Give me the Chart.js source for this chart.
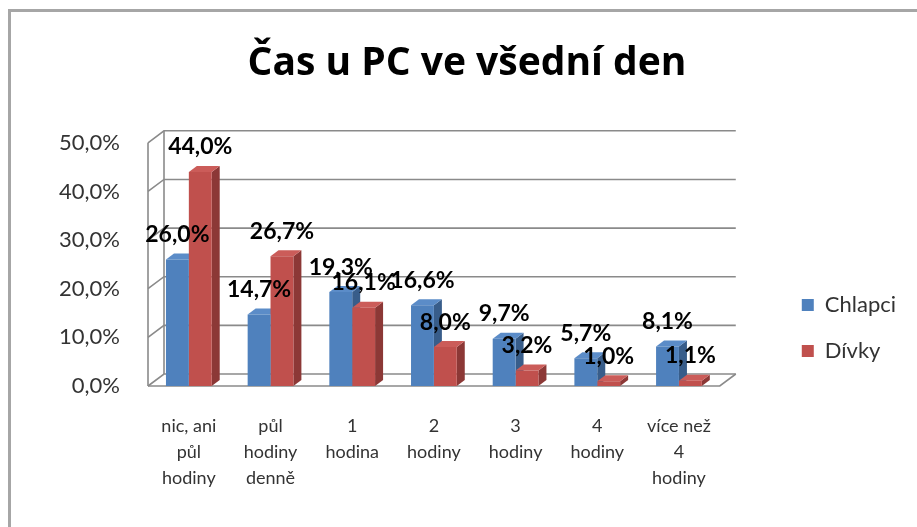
<!DOCTYPE html>
<html>
<head>
<meta charset="utf-8">
<script src="https://cdn.jsdelivr.net/npm/chart.js@4.4.1/dist/chart.umd.min.js"></script>
<style>
  html, body { margin: 0; padding: 0; background: #ffffff; }
  #wrap { width: 917px; height: 527px; position: relative; }
</style>
</head>
<body>
<div id="wrap"><canvas id="c" width="917" height="527"></canvas></div>
<script>
// ---- data ----
const titleText = "Čas u PC ve všední den";
const categories = [
  ["nic, ani", "půl", "hodiny"],
  ["půl", "hodiny", "denně"],
  ["1", "hodina"],
  ["2", "hodiny"],
  ["3", "hodiny"],
  ["4", "hodiny"],
  ["více než", "4", "hodiny"]
];
const seriesNames = ["Chlapci", "Dívky"];
const chlapci = [26.0, 14.7, 19.3, 16.6, 9.7, 5.7, 8.1];
const divky = [44.0, 26.7, 16.1, 8.0, 3.2, 1.0, 1.1];
const yMin = 0, yMax = 50, yStep = 10;

// ---- style ----
const FONT = "Lato, 'Open Sans', sans-serif";
const colors = [
  { front: "#4F81BD", side: "#385D8A", top: "#5B8CC8" },
  { front: "#C0504D", side: "#8C3836", top: "#CB5C59" }
];
const WALL_DX = 16, WALL_DY = 12;
const BAR_DX = 8, BAR_DY = 6;
const fmt = v => v.toFixed(1).replace(".", ",") + "%";

const threeD = {
  id: "threeD",
  beforeDraw(chart) {
    const ctx = chart.ctx;
    ctx.save();
    ctx.strokeStyle = "#a6a6a6";
    ctx.lineWidth = 3;
    ctx.strokeRect(9.5, 10.5, 1000, 1000);
    ctx.restore();
  },
  beforeDatasetsDraw(chart) {
    const ctx = chart.ctx;
    const ys = chart.scales.y;
    const area = chart.chartArea;
    const L = area.left, R = area.right;
    ctx.save();
    ctx.strokeStyle = "#8a8a8a";
    ctx.lineWidth = 1.6;
    for (let v = yMin; v <= yMax; v += yStep) {
      const py = ys.getPixelForValue(v);
      ctx.beginPath();
      ctx.moveTo(L, py);
      ctx.lineTo(L + WALL_DX, py - WALL_DY);
      ctx.lineTo(R + WALL_DX, py - WALL_DY);
      ctx.stroke();
    }
    const y0 = ys.getPixelForValue(yMin), y1 = ys.getPixelForValue(yMax);
    ctx.beginPath();
    ctx.moveTo(L, y0); ctx.lineTo(L, y1);
    ctx.moveTo(L + WALL_DX, y0 - WALL_DY); ctx.lineTo(L + WALL_DX, y1 - WALL_DY);
    ctx.moveTo(L, y0); ctx.lineTo(R, y0); ctx.lineTo(R + WALL_DX, y0 - WALL_DY);
    ctx.stroke();

    const n = categories.length;
    for (let i = 0; i < n; i++) {
      chart.data.datasets.forEach((ds, d) => {
        const el = chart.getDatasetMeta(d).data[i];
        if (!el) return;
        const p = el.getProps(["x", "y", "base", "width"], true);
        const l = p.x - p.width / 2, r = p.x + p.width / 2;
        ctx.fillStyle = colors[d].side;
        ctx.beginPath();
        ctx.moveTo(r, p.y); ctx.lineTo(r + BAR_DX, p.y - BAR_DY);
        ctx.lineTo(r + BAR_DX, p.base - BAR_DY); ctx.lineTo(r, p.base);
        ctx.closePath(); ctx.fill();
        ctx.fillStyle = colors[d].top;
        ctx.beginPath();
        ctx.moveTo(l, p.y); ctx.lineTo(l + BAR_DX, p.y - BAR_DY);
        ctx.lineTo(r + BAR_DX, p.y - BAR_DY); ctx.lineTo(r, p.y);
        ctx.closePath(); ctx.fill();
      });
    }
    ctx.restore();
  },
  afterDatasetsDraw(chart) {
    const ctx = chart.ctx;
    ctx.save();
    ctx.font = "bold 23px " + FONT;
    ctx.fillStyle = "#000000";
    ctx.textAlign = "center";
    ctx.textBaseline = "middle";
    chart.data.datasets.forEach((ds, d) => {
      chart.getDatasetMeta(d).data.forEach((el, i) => {
        const p = el.getProps(["x", "y"], true);
        ctx.fillText(fmt(ds.data[i]), p.x, p.y - 25);
      });
    });
    ctx.restore();
  }
};

new Chart(document.getElementById("c"), {
  type: "bar",
  data: {
    labels: categories,
    datasets: [
      { label: seriesNames[0], data: chlapci, backgroundColor: colors[0].front,
        categoryPercentage: 0.56, barPercentage: 1.0 },
      { label: seriesNames[1], data: divky, backgroundColor: colors[1].front,
        categoryPercentage: 0.56, barPercentage: 1.0 }
    ]
  },
  options: {
    responsive: false,
    animation: false,
    layout: { padding: { left: 28, right: 11, top: 0, bottom: 33 } },
    plugins: {
      title: {
        display: true, text: titleText, color: "#000000",
        font: { family: "'Open Sans', Lato, sans-serif", size: 39, weight: "bold" },
        padding: { top: 40, bottom: 56 }
      },
      legend: {
        position: "right",
        fullSize: false,
        align: "end",
        labels: {
          color: "#333333",
          font: { family: FONT, size: 22 },
          boxWidth: 12, boxHeight: 12, padding: 24
        }
      },
      tooltip: { enabled: false }
    },
    scales: {
      x: {
        grid: { display: false }, border: { display: false },
        ticks: { color: "#333333", font: { family: FONT, size: 18, lineHeight: 1.45 }, padding: 19, maxRotation: 0, autoSkip: false },
        afterFit: s => { s.height = 108; }
      },
      y: {
        min: yMin, max: yMax,
        grid: { display: false }, border: { display: false },
        ticks: { stepSize: yStep, color: "#333333", font: { family: FONT, size: 22 }, padding: 20,
                 callback: v => fmt(v) },
        afterFit: s => { s.width = 120; }
      },
      y2: {
        position: "right", display: true,
        grid: { display: false }, border: { display: false },
        ticks: { display: false },
        afterFit: s => { s.width = 58; }
      }
    }
  },
  plugins: [threeD]
});
</script>
</body>
</html>
